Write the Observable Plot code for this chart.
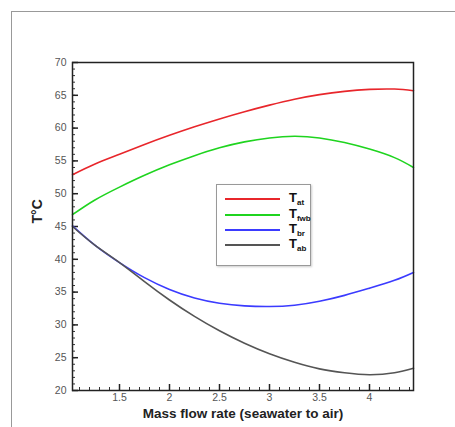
<!DOCTYPE html>
<html><head><meta charset="utf-8">
<script src="https://cdn.jsdelivr.net/npm/d3@7"></script>
<script src="https://cdn.jsdelivr.net/npm/@observablehq/plot@0.6"></script>
<style>
body{margin:0;background:#fff;font-family:"Liberation Sans",Arial,sans-serif;}
#wrap{position:relative;width:455px;height:427px;overflow:hidden;}
#outer{position:absolute;left:11px;top:11px;width:460px;height:430px;border:1px solid #999;}
#chart{position:absolute;left:0;top:0;}
#legend{position:absolute;left:216px;top:184px;width:93px;height:80px;border:1px solid #999;background:#fff;box-shadow:1px 1px 2px #ccc;}
.row{position:absolute;left:8px;height:14px;}
.row .ln{position:absolute;left:0;top:6px;width:55px;height:2px;}
.row .lb{position:absolute;left:64px;top:-2px;font-weight:bold;font-size:13px;color:#111;white-space:nowrap;}
.row .lb sub{font-size:8px;vertical-align:-3px;}
</style></head>
<body>
<div id="wrap"><div id="outer"></div><div id="chart"></div><div id="legend"></div></div>
<script>
const xs = [1.03, 1.25, 1.5, 1.75, 2.0, 2.25, 2.5, 2.75, 3.0, 3.25, 3.5, 3.75, 4.0, 4.25, 4.44];
const Tat  = [52.9, 54.5, 56.0, 57.5, 58.9, 60.2, 61.4, 62.5, 63.5, 64.4, 65.1, 65.6, 65.9, 65.95, 65.7];
const Tfwb = [46.8, 49.0, 51.0, 52.8, 54.4, 55.8, 57.0, 57.9, 58.5, 58.75, 58.5, 57.8, 56.8, 55.5, 54.0];
const Tbr  = [45.1, 42.2, 39.5, 37.2, 35.4, 34.1, 33.3, 32.9, 32.8, 33.0, 33.6, 34.5, 35.6, 36.8, 38.0];
const Tab  = [45.0, 42.2, 39.5, 36.6, 33.8, 31.3, 29.1, 27.2, 25.6, 24.3, 23.3, 22.7, 22.4, 22.7, 23.4];
const seriesNames = ["at", "fwb", "br", "ab"];
const seriesValues = [Tat, Tfwb, Tbr, Tab];
const colors = ["#e8262b", "#1fd41f", "#3b3bff", "#555555"];
const xMajor = [1.5, 2, 2.5, 3, 3.5, 4];
const xMinor = d3.range(11, 45).map(d => d / 10);
const yMajor = [20, 25, 30, 35, 40, 45, 50, 55, 60, 65, 70];
const yMinor = d3.range(20, 71);

const data = seriesNames.flatMap((s, i) => xs.map((x, j) => ({s, x, y: seriesValues[i][j]})));

const plot = Plot.plot({
  width: 455, height: 427,
  marginLeft: 72, marginTop: 62, marginRight: 42, marginBottom: 37,
  style: {fontFamily: "Liberation Sans, Arial, sans-serif", fontSize: "10.5px", background: "transparent"},
  x: {domain: [1.03, 4.44]},
  y: {domain: [20, 70]},
  color: {domain: seriesNames, range: colors},
  marks: [
    Plot.axisX({ticks: xMinor, tickSize: -3, text: null, label: null, stroke: "#333"}),
    Plot.axisX({ticks: xMajor, tickSize: -6, text: null, label: null, stroke: "#222", strokeWidth: 1.5}),
    Plot.axisX({ticks: xMajor, tickSize: 0, tickPadding: 3, tickFormat: d => String(d), fill: "#555", label: null}),
    Plot.axisY({ticks: yMinor, tickSize: -3, text: null, label: null, stroke: "#333"}),
    Plot.axisY({ticks: yMajor, tickSize: 0, tickPadding: 6, fill: "#555", label: null}),
    Plot.axisY({ticks: yMajor, tickSize: -6, text: null, label: null, stroke: "#222", strokeWidth: 1.5}),
    Plot.line(data, {x: "x", y: "y", z: "s", stroke: "s", strokeWidth: 1.6, curve: "natural"}),
    Plot.frame({stroke: "#222", strokeWidth: 1.5}),
    Plot.text(["Mass flow rate (seawater to air)"], {frameAnchor: "bottom", dy: 27, text: d => d, fontWeight: "bold", fontSize: 13.5, fill: "#222"}),
    Plot.text(["T°C"], {frameAnchor: "left", dx: -35, dy: -3, rotate: -90, text: d => d, fontWeight: "bold", fontSize: 14, fill: "#222"})
  ]
});
document.getElementById("chart").appendChild(plot);

const leg = document.getElementById("legend");
const tops = [14, 30, 45, 60];
seriesNames.forEach((s, i) => {
  const r = document.createElement("div");
  r.className = "row";
  r.style.top = (tops[i] - 7) + "px";
  r.innerHTML = `<div class="ln" style="background:${colors[i]}"></div><div class="lb">T<sub>${s}</sub></div>`;
  leg.appendChild(r);
});
</script>
</body></html>
